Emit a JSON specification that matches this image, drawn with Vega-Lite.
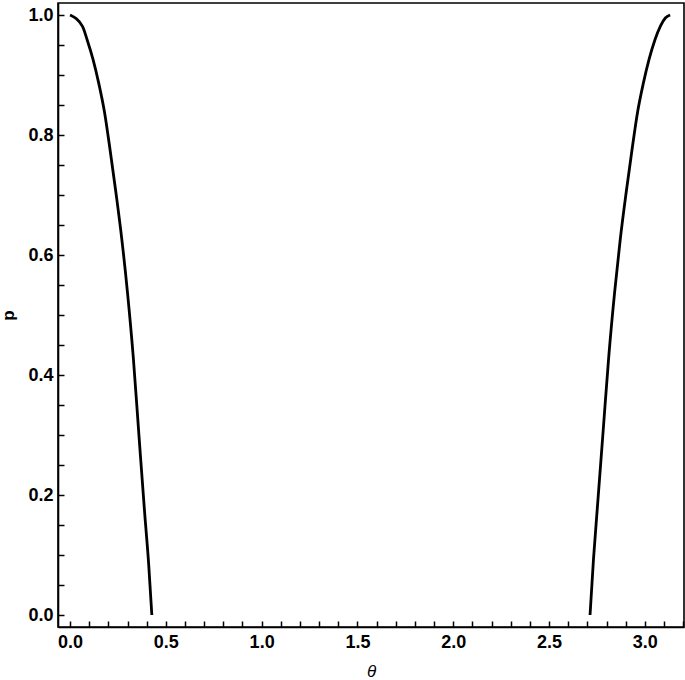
{
  "$schema": "https://vega.github.io/schema/vega-lite/v6.json",
  "width": 626,
  "height": 624,
  "autosize": {"type": "none"},
  "padding": {"left": 58, "top": 3, "right": 1, "bottom": 53},
  "background": "white",
  "config": {
    "view": {"stroke": "black", "strokeWidth": 1.6}
  },
  "data": {
    "values": [
      {"theta": 0.0, "p": 1.0, "branch": "a"},
      {"theta": 0.065, "p": 0.981, "branch": "a"},
      {"theta": 0.09, "p": 0.958, "branch": "a"},
      {"theta": 0.12, "p": 0.926, "branch": "a"},
      {"theta": 0.15, "p": 0.886, "branch": "a"},
      {"theta": 0.18, "p": 0.838, "branch": "a"},
      {"theta": 0.21, "p": 0.773, "branch": "a"},
      {"theta": 0.24, "p": 0.703, "branch": "a"},
      {"theta": 0.27, "p": 0.627, "branch": "a"},
      {"theta": 0.3, "p": 0.537, "branch": "a"},
      {"theta": 0.33, "p": 0.43, "branch": "a"},
      {"theta": 0.36, "p": 0.298, "branch": "a"},
      {"theta": 0.39, "p": 0.168, "branch": "a"},
      {"theta": 0.41, "p": 0.087, "branch": "a"},
      {"theta": 0.427, "p": 0.0, "branch": "a"},
      {"theta": 2.714, "p": 0.0, "branch": "b"},
      {"theta": 2.732, "p": 0.093, "branch": "b"},
      {"theta": 2.752, "p": 0.178, "branch": "b"},
      {"theta": 2.782, "p": 0.305, "branch": "b"},
      {"theta": 2.812, "p": 0.432, "branch": "b"},
      {"theta": 2.842, "p": 0.537, "branch": "b"},
      {"theta": 2.872, "p": 0.627, "branch": "b"},
      {"theta": 2.902, "p": 0.703, "branch": "b"},
      {"theta": 2.932, "p": 0.773, "branch": "b"},
      {"theta": 2.962, "p": 0.838, "branch": "b"},
      {"theta": 2.992, "p": 0.886, "branch": "b"},
      {"theta": 3.022, "p": 0.926, "branch": "b"},
      {"theta": 3.052, "p": 0.958, "branch": "b"},
      {"theta": 3.082, "p": 0.982, "branch": "b"},
      {"theta": 3.107, "p": 0.995, "branch": "b"},
      {"theta": 3.132, "p": 1.0, "branch": "b"}
    ]
  },
  "mark": {"type": "line", "color": "black", "strokeWidth": 2.8, "interpolate": "monotone"},
  "encoding": {
    "x": {
      "field": "theta", "type": "quantitative",
      "scale": {"domain": [-0.0628, 3.2044], "nice": false, "zero": false},
      "axis": {
        "orient": "bottom", "grid": false,
        "domainColor": "black", "domainWidth": 1.6,
        "tickCount": 32,
        "labelExpr": "abs(datum.value*2 - round(datum.value*2)) < 0.001 ? format(datum.value, '.1f') : ''",
        "tickColor": "black", "tickWidth": 1.5, "tickSize": -6,
        "labelColor": "black", "labelFont": "Liberation Sans", "labelFontWeight": "bold", "labelFontSize": 18, "labelPadding": 12,
        "labelOverlap": false, "labelFlush": false,
        "title": "θ", "titleColor": "black", "titleFont": "Liberation Sans", "titleFontSize": 17,
        "titleFontStyle": "italic", "titleFontWeight": "normal",
        "titleX": 313, "titleY": 49, "titleAlign": "center", "titleBaseline": "alphabetic"
      }
    },
    "y": {
      "field": "p", "type": "quantitative",
      "scale": {"domain": [-0.02, 1.02], "nice": false, "zero": false},
      "axis": {
        "orient": "left", "grid": false,
        "domainColor": "black", "domainWidth": 1.6,
        "tickCount": 20,
        "labelExpr": "abs(datum.value*5 - round(datum.value*5)) < 0.001 ? format(datum.value, '.1f') : ''",
        "tickColor": "black", "tickWidth": 1.5, "tickSize": -6,
        "labelColor": "black", "labelFont": "Liberation Sans", "labelFontWeight": "bold", "labelFontSize": 18, "labelPadding": 11,
        "labelOverlap": false, "labelFlush": false,
        "title": "p", "titleColor": "black", "titleFont": "Liberation Sans", "titleFontSize": 17, "titleFontWeight": "bold",
        "titleAngle": -90, "titleX": -50, "titleY": 312, "titleAlign": "center", "titleBaseline": "middle"
      }
    },
    "detail": {"field": "branch", "type": "nominal"}
  }
}
